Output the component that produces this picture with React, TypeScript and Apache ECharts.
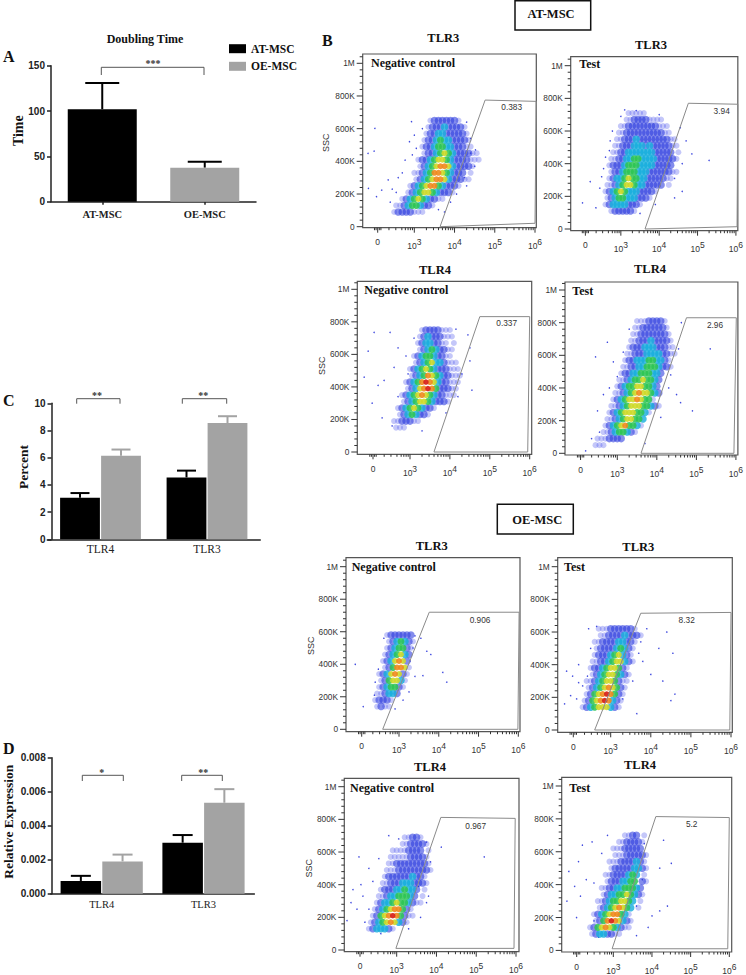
import React, { useEffect, useRef } from "react";
import * as echarts from "echarts";

// ---------- bar chart values ----------
const groupsA = ["AT-MSC", "OE-MSC"];
const doublingAT = [102, null];
const doublingOE = [null, 37.5];
const doublingATTop = [131, null];
const doublingOETop = [null, 44];
const tlrGroupsC = ["TLR4", "TLR3"];
const percentAT = [3.05, 4.55];
const percentATTop = [3.4, 5.05];
const percentOE = [6.15, 8.55];
const percentOETop = [6.6, 9.05];
const tlrGroupsD = ["TLR4", "TLR3"];
const exprAT = [0.00075, 0.003];
const exprATTop = [0.00105, 0.00345];
const exprOE = [0.0019, 0.00535];
const exprOETop = [0.0023, 0.00615];

// ---------- flow cytometry: density (one digit per cell, rows every 40K SSC, columns every 0.1 decade) ----------
const d1 = { u0: 2.4, top: 650, rows: ["..........12222221", ".........1222322221", ".........12233222221", "........122343322221", "........1223443322211", "........12234543222211", ".......1223455432222111", ".......12345665322221", "......1123466543222 1", "......12345665322211", ".....1234566432221", "....123455432221", "...12345432211", ".1123443221", ".12222111"] };
const d2 = { u0: 2.4, top: 710, rows: ["........11111", ".......1122221111", "......1122222222111", ".....11222222222211", ".....1122232222222211", "....11222333232222211", "....1122333333322222 1", "...112233443333222221", "...12223444333322222", "...122344433322222211", "...12334544332222211", "..112345543322222 1", "..12345433322221", "..123443332221", "..1233332221", "...1222221"] };
const d3 = { u0: 2.5, top: 750, rows: ["........12222111", ".......123222111", ".......12332211 1", ".......123432211", "......1234432211", "......12345332111", ".....1234543222111", ".....1234654322111", "....12346765322111", "....1235676422211", "...12345654322111", "...123455432221", "..1234543221", "..12343221", ".1122211", ".111"] };
const d4 = { u0: 2.3, top: 810, rows: ["............11122221", "...........112222221", "...........1122222221", "..........11222322221", "..........122233322211", ".........1122233332211", ".........122333443321", "........1122334443221", "........12233444332", ".......11234454432", ".......12344554432", "......112345655432", "......12345565441", ".....1123455544321", ".....12345554431", "....1123455443", "....1234564431", "...112344321", "..1112222", ".111"] };
const d5 = { u0: 2.4, top: 580, rows: ["...1222222", "...1234321", "...1234421", "..1234532", "..1235652", "..1246651", ".12356521", ".1245531", ".1234421", "112332", "12221", "1211"] };
const d6 = { u0: 2.3, top: 620, rows: ["....1112222221", "....11222232221", "...11222233221", "...1222234321", "...1222345321", "..11223455321", "..1223455421", "..1234554321", ".11234554211", ".1234565421", ".1245676421", "1245676321", "1234555321"] };
const d7 = { u0: 2.2, top: 690, rows: ["..........11221", ".........1122221", ".......11112222 1", "......1111122221", "......11222222221", ".....111222222221", ".....12222223221", "....112223332221", "....1222334332 1", "...1123344432 1", "...123345443211", "..1234566421", "..12456764211", ".1234565321", ".1233321"] };
const d8 = { u0: 2.3, top: 700, rows: ["..........1122 1", "........1122221", ".......11122222", ".......111222221", "......1112222321", "......1222223321", ".....112222343 1", ".....12223344 21", "....11223344432", "....12334454321", "...1123445543 1", "...123456543 1", "..1234566431", "..1246765321", ".12456543211", ".12332211"] };

// scattered events outside the main clouds [decade, SSC in K]
const o1 = [[2.02, 602], [1.85, 449], [2.0, 463], [2.93, 643], [2.19, 224], [1.86, 235], [2.06, 184], [2.35, 286], [2.77, 408], [2.6, 300], [2.45, 230], [2.88, 520], [4.4, 450], [4.5, 370], [4.25, 300], [3.9, 150], [3.75, 90], [3.2, 600], [3.05, 480], [2.95, 440], [2.7, 330], [2.55, 210], [2.4, 150], [4.4, 540], [4.52, 470], [4.3, 250], [4.05, 200], [3.6, 105], [4.3, 640], [3.0, 560]];
const o2 = [[2.2, 290], [2.0, 160], [2.55, 370], [2.45, 250], [2.72, 540], [3.0, 690], [2.6, 440], [4.7, 540], [5.3, 420], [4.85, 460], [4.6, 230], [4.4, 190], [2.78, 600], [4.55, 620], [4.6, 400], [4.4, 310], [3.1, 730], [3.4, 725], [4.0, 700], [2.7, 480], [2.5, 320], [2.35, 130], [3.5, 95], [3.9, 150]];
const o3 = [[1.95, 620], [2.1, 735], [2.5, 735], [2.7, 640], [1.85, 460], [2.35, 440], [2.6, 520], [2.2, 410], [2.05, 300], [2.9, 590], [4.5, 560], [4.3, 480], [4.55, 380], [2.3, 210], [4.45, 720], [4.15, 755], [4.5, 640], [3.1, 700], [2.95, 480], [2.7, 340], [2.55, 160], [3.3, 130], [3.9, 240], [4.2, 340]];
const o4 = [[2.75, 680], [2.45, 590], [3.0, 470], [2.8, 400], [2.65, 360], [2.5, 260], [2.2, 15], [4.9, 260], [4.5, 360], [5.35, 640], [4.6, 310], [2.9, 560], [4.62, 800], [4.55, 640], [4.35, 480], [3.3, 760], [3.15, 620], [2.55, 130], [2.35, 90], [3.7, 60], [4.1, 220], [4.3, 400]];
const o5 = [[1.9, 400], [2.4, 290], [2.1, 140], [3.55, 560], [3.7, 480], [3.8, 460], [3.6, 330], [3.4, 325], [4.1, 350], [4.2, 290], [3.25, 230], [3.1, 180], [2.62, 560], [2.48, 370], [2.38, 210], [3.35, 500], [3.28, 420], [3.4, 575], [2.9, 125]];
const o6 = [[1.9, 360], [2.05, 330], [2.2, 290], [2.0, 210], [2.3, 270], [2.45, 620], [2.2, 400], [2.15, 190], [1.85, 160], [3.9, 620], [4.4, 600], [4.2, 500], [4.55, 470], [3.8, 420], [4.0, 340], [4.3, 300], [4.6, 220], [4.5, 180], [3.65, 100], [3.75, 540], [3.7, 470], [3.55, 300], [3.3, 190], [2.5, 500], [2.65, 635], [2.42, 330]];
const o7 = [[2.05, 570], [2.1, 400], [1.9, 370], [1.85, 290], [2.0, 250], [2.15, 330], [1.75, 180], [2.3, 500], [2.4, 420], [4.12, 630], [5.2, 570], [3.85, 540], [3.8, 330], [3.75, 290], [3.6, 200], [3.3, 130], [2.8, 700], [3.05, 680], [3.75, 660], [2.55, 560], [2.3, 250], [2.2, 170], [3.55, 390], [2.6, 100]];
const o8 = [[2.45, 660], [2.2, 640], [2.1, 540], [1.85, 480], [2.3, 430], [2.0, 390], [2.15, 330], [1.8, 300], [2.05, 200], [2.5, 180], [4.3, 670], [4.2, 500], [4.5, 530], [4.4, 270], [4.2, 240], [4.0, 210], [3.9, 140], [3.6, 90], [2.85, 700], [2.7, 590], [2.5, 410], [3.8, 650], [3.75, 430], [3.6, 270], [2.62, 80]];

// gate vertices [decade, SSC in K]
const g1 = [[3.64, 0], [4.76, 775], [6.03, 767], [6.0, 21], [3.64, 0]];
const g2 = [[3.63, 0], [4.76, 770], [6.05, 764], [6.03, 14], [3.63, 0]];
const g3 = [[3.6, 0], [4.75, 832], [6.0, 832], [5.95, 0], [3.6, 0]];
const g4 = [[3.6, 0], [4.75, 830], [6.01, 830], [5.95, 0], [3.6, 0]];
const g5 = [[2.59, 0], [3.76, 720], [6.02, 720], [5.99, 0], [2.59, 0]];
const g6 = [[2.6, 0], [3.75, 715], [6.0, 720], [5.97, 0], [2.6, 0]];
const g7 = [[2.98, 10], [4.11, 812], [5.98, 806], [5.95, 10], [2.98, 10]];
const g8 = [[2.97, 10], [4.1, 814], [6.0, 808], [5.96, 10], [2.97, 10]];

const flowTitles = ["TLR3", "TLR3", "TLR4", "TLR4", "TLR3", "TLR3", "TLR4", "TLR4"];
const flowKinds = ["Negative control", "Test", "Negative control", "Test", "Negative control", "Test", "Negative control", "Test"];
const gateValues = ["0.383", "3.94", "0.337", "2.96", "0.906", "8.32", "0.967", "5.2"];
const sscMajor = [0, 200, 400, 600, 800, 1000];
const sscLabels: Record<number, string> = { 0: "0", 200: "200K", 400: "400K", 600: "600K", 800: "800K", 1000: "1M" };
const decades = [3, 4, 5, 6];

// ---------- layout (pixels) ----------
const layouts = [
  { l: 362.7, r: 536.3, t: 54, b: 227.7, y0: 226.7, y1: 63.3, x3: 414.3, x6: 535, z: 377.7, tx: 443.3, ty: 38.3, kx: 371, ky: 62.7, vx: 511.7, vy: 106.7, sx: 326, sy: 142.7, ssc: true },
  { l: 570.7, r: 745, t: 56.7, b: 230.7, y0: 229, y1: 65.7, x3: 623, x6: 743, z: 586, tx: 651, ty: 45, kx: 579.3, ky: 64.3, vx: 721.7, vy: 111, sx: 0, sy: 0, ssc: false },
  { l: 357.3, r: 531.7, t: 281.3, b: 454.3, y0: 452, y1: 289.3, x3: 410, x6: 529.7, z: 373, tx: 435, ty: 270, kx: 364.3, ky: 290, vx: 506.7, vy: 322.7, sx: 321.7, sy: 365.7, ssc: true },
  { l: 565, r: 739.3, t: 282, b: 455, y0: 453.3, y1: 290, x3: 617.7, x6: 737.3, z: 580.7, tx: 650, ty: 269, kx: 572.3, ky: 290.7, vx: 715, vy: 325, sx: 0, sy: 0, ssc: false },
  { l: 346, r: 520, t: 557.7, b: 731.7, y0: 729.3, y1: 566.7, x3: 399, x6: 518.3, z: 361.7, tx: 431.7, ty: 545.7, kx: 351.7, ky: 566.7, vx: 480, vy: 620, sx: 311, sy: 645.7, ssc: true },
  { l: 557.7, r: 732.3, t: 557.7, b: 732.3, y0: 730, y1: 566.7, x3: 610.7, x6: 731, z: 573.3, tx: 638.3, ty: 546.7, kx: 564, ky: 567.3, vx: 686.7, vy: 620, sx: 0, sy: 0, ssc: false },
  { l: 344.3, r: 519, t: 778.3, b: 951.7, y0: 950, y1: 786.7, x3: 396.7, x6: 516, z: 360, tx: 430, ty: 766.7, kx: 350, ky: 787.7, vx: 475.7, vy: 826, sx: 309, sy: 868.3, ssc: true },
  { l: 561.7, r: 731.7, t: 777.3, b: 952.3, y0: 950.7, y1: 786, x3: 613.3, x6: 729.3, z: 576.7, tx: 640, ty: 765, kx: 569.3, ky: 787.7, vx: 691.7, vy: 824, sx: 0, sy: 0, ssc: false },
];
const densities = [d1, d2, d3, d4, d5, d6, d7, d8];
const outliers = [o1, o2, o3, o4, o5, o6, o7, o8];
const gates = [g1, g2, g3, g4, g5, g6, g7, g8];

const SERIF = "'Liberation Serif', serif";
const SANS = "'Liberation Sans', sans-serif";
// band 0 = a lone event; 1-7 = density classes from sparse blue to dense red
const BAND_COLORS = ["#2a35dc", "#3a46ea", "#2a38de", "#14acdc", "#2cc452", "#cfd92a", "#f08a1e", "#d8261e"];
const BAND_SIZES = [1.5, 6, 7.5, 7.5, 7, 6, 6, 5.5];
const BAND_ALPHA = [0.9, 0.3, 0.58, 0.8, 0.85, 0.9, 0.9, 0.95];

function flowPoints(i: number) {
  const d = densities[i];
  const pts: number[][] = [];
  d.rows.forEach((row, r) => {
    for (let c = 0; c < row.length; c++) {
      const v = parseInt(row[c], 10);
      if (v > 0) pts.push([+(d.u0 + c * 0.1 + (r % 2 ? 0.05 : 0)).toFixed(3), d.top - r * 40, v]);
    }
  });
  outliers[i].forEach((p) => pts.push([p[0], p[1], 0]));
  return pts.sort((a, b) => a[2] - b[2]);
}

function txt(text: string, x: number, y: number, font: string, align = "center", rot = 0, fill = "#111") {
  return {
    type: "text", x, y, rotation: rot, silent: true,
    style: { text, font, fill, align, verticalAlign: "middle", textAlign: align, textVerticalAlign: "middle" },
  };
}
function bracket(x1: number, x2: number, top: number, bot: number) {
  return {
    type: "polyline", silent: true,
    shape: { points: [[x1, bot], [x1, top], [x2, top], [x2, bot]] },
    style: { stroke: "#555", lineWidth: 1, fill: "none" },
  };
}

function errorSeries(name: string, xi: number, yi: number, tops: (number | null)[], means: (number | null)[], off: number, cap: number, color: string) {
  return {
    type: "custom", name, xAxisIndex: xi, yAxisIndex: yi, silent: true, z: 1,
    data: means.map((m, i) => [i, m, tops[i]]).filter((r) => r[1] !== null),
    renderItem: (_: any, api: any) => {
      const a = api.coord([api.value(0), api.value(1)]);
      const b = api.coord([api.value(0), api.value(2)]);
      const x = a[0] + off;
      const st = { stroke: color, lineWidth: 2, fill: "none" };
      return {
        type: "group",
        children: [
          { type: "line", shape: { x1: x, y1: a[1], x2: x, y2: b[1] }, style: st },
          { type: "line", shape: { x1: x - cap / 2, y1: b[1], x2: x + cap / 2, y2: b[1] }, style: st },
        ],
      };
    },
  };
}

function buildOption() {
  const grid: any[] = [];
  const xAxis: any[] = [];
  const yAxis: any[] = [];
  const series: any[] = [];
  const graphic: any[] = [];

  const barAxisX = (cats: string[], gi: number, labelSize: number, bold: boolean, tick: boolean, margin: number) => ({
    type: "category", gridIndex: gi, data: cats,
    axisLine: { onZero: false, lineStyle: { color: "#222", width: 1.5 } },
    axisTick: { show: tick, length: 3, alignWithLabel: true, lineStyle: { color: "#222", width: 1.5 } },
    axisLabel: { fontFamily: SERIF, fontSize: labelSize, fontWeight: bold ? "bold" : "normal", color: "#222", margin, interval: 0 },
  });
  const barAxisY = (gi: number, max: number, interval: number, offset: number, fmt?: (v: number) => string) => ({
    type: "value", gridIndex: gi, min: 0, max, interval, offset,
    splitLine: { show: false },
    axisLine: { show: true, lineStyle: { color: "#222", width: 1.5 } },
    axisTick: { show: true, length: 4, lineStyle: { color: "#222", width: 1.5 } },
    axisLabel: { fontFamily: SANS, fontSize: 10, fontWeight: "bold", color: "#222", margin: 6, formatter: fmt },
  });

  // Panel A
  grid.push({ left: 51, top: 65.7, width: 205, height: 136 });
  xAxis.push(barAxisX(groupsA, 0, 10.5, true, true, 7));
  yAxis.push(barAxisY(0, 150, 50, 0));
  series.push({ type: "bar", name: "AT-MSC", xAxisIndex: 0, yAxisIndex: 0, barWidth: 69, barGap: "-100%", z: 2, data: doublingAT, itemStyle: { color: "#000" } });
  series.push({ type: "bar", name: "OE-MSC", xAxisIndex: 0, yAxisIndex: 0, barWidth: 69, barGap: "-100%", z: 2, data: doublingOE, itemStyle: { color: "#a3a3a3" } });
  series.push(errorSeries("AT-MSC error", 0, 0, doublingATTop, doublingAT, 0, 34, "#000"));
  series.push(errorSeries("OE-MSC error", 0, 0, doublingOETop, doublingOE, 0, 34, "#000"));

  const twoGroup = (gi: number, at: number[], atTop: number[], oe: number[], oeTop: number[], w: number, gap: number, cap: number) => {
    series.push({ type: "bar", name: "AT-MSC", xAxisIndex: gi, yAxisIndex: gi, barWidth: w, barGap: `${(gap / w) * 100}%`, z: 2, data: at, itemStyle: { color: "#000" } });
    series.push({ type: "bar", name: "OE-MSC", xAxisIndex: gi, yAxisIndex: gi, barWidth: w, barGap: `${(gap / w) * 100}%`, z: 2, data: oe, itemStyle: { color: "#a3a3a3" } });
    series.push(errorSeries("AT-MSC error", gi, gi, atTop, at, -(w + gap) / 2, cap, "#000"));
    series.push(errorSeries("OE-MSC error", gi, gi, oeTop, oe, (w + gap) / 2, cap, "#a3a3a3"));
  };

  // Panel C
  grid.push({ left: 47.25, top: 403.3, width: 213, height: 136 });
  xAxis.push(barAxisX(tlrGroupsC, 1, 11.5, false, false, 4));
  yAxis.push(barAxisY(1, 10, 2, -4.25));
  twoGroup(1, percentAT, percentATTop, percentOE, percentOETop, 39.8, 1.2, 19);

  // Panel D
  grid.push({ left: 50.8, top: 757.7, width: 203.6, height: 136 });
  xAxis.push(barAxisX(tlrGroupsD, 2, 10.5, false, false, 5));
  yAxis.push(barAxisY(2, 0.008, 0.002, -0.9, (v: number) => v.toFixed(3)));
  twoGroup(2, exprAT, exprATTop, exprOE, exprOETop, 40.5, 1.2, 20);

  // Flow panels
  layouts.forEach((p, i) => {
    const gi = grid.length;
    const s = (p.x6 - p.x3) / 3;
    const sy = (p.y0 - p.y1) / 1000;
    const zero = 3 - (p.x3 - p.z) / s;
    grid.push({ left: p.l, top: p.t, width: p.r - p.l, height: p.b - p.t, show: true, borderColor: "#555", borderWidth: 1.2, backgroundColor: "#fff" });
    const xMin = 3 - (p.x3 - p.l) / s;
    const xMax = 3 + (p.r - p.x3) / s;
    const yMin = -(p.b - p.y0) / sy;
    const yMax = (p.y0 - p.t) / sy;
    const xi = xAxis.length;
    const yi = yAxis.length;
    const majors = [zero, ...decades];
    xAxis.push({
      type: "value", gridIndex: gi, min: xMin, max: xMax, position: "bottom", splitLine: { show: false },
      axisLine: { show: false, onZero: false }, axisTick: { show: false },
      axisLabel: {
        customValues: majors, margin: 10, color: "#333", fontFamily: SANS, fontSize: 8.5, hideOverlap: false, showMinLabel: true, showMaxLabel: true,
        formatter: (v: number) => (Math.abs(v - zero) < 0.001 ? "0" : `{b|10}{e|${Math.round(v)}}`),
        rich: { b: { fontFamily: SANS, fontSize: 8.5, color: "#333" }, e: { fontFamily: SANS, fontSize: 8.5, color: "#333", padding: [0, 0, 8, 0] } },
      },
    });
    yAxis.push({
      type: "value", gridIndex: gi, min: yMin, max: yMax, position: "left", splitLine: { show: false },
      axisLine: { show: false, onZero: false }, axisTick: { show: false },
      axisLabel: { customValues: sscMajor, margin: 8, color: "#333", fontFamily: SANS, fontSize: 8.3, formatter: (v: number) => sscLabels[Math.round(v)] },
    });
    // ticks on both scales: [value, length, 0 = x scale / 1 = y scale]
    const ticks: number[][] = [];
    majors.forEach((m) => ticks.push([m, 5, 0]));
    [zero - 0.08, zero - 0.04, zero + 0.04, zero + 0.08, zero + 0.28, zero + 0.45, zero + 0.6].forEach((m) => ticks.push([m, 2.5, 0]));
    for (let k = 6; k < 10; k++) ticks.push([2 + Math.log10(k), 2.5, 0]);
    decades.slice(0, 3).forEach((d) => { for (let k = 2; k < 10; k++) ticks.push([d + Math.log10(k), 2.5, 0]); });
    sscMajor.forEach((v) => ticks.push([v, 6, 1]));
    for (let v = 40; v < yMax; v += 40) if (v % 200 !== 0) ticks.push([v, 3, 1]);
    series.push({
      type: "custom", name: `${flowTitles[i]} ticks`, xAxisIndex: xi, yAxisIndex: yi, silent: true, clip: false, z: 1, data: ticks,
      encode: { x: 0, y: 0 },
      renderItem: (_: any, api: any) => {
        const v = api.value(0), len = api.value(1), onY = api.value(2) === 1;
        const st = { stroke: "#333", lineWidth: 1, fill: "none" };
        if (onY) {
          const c = api.coord([xMin, v]);
          return { type: "line", shape: { x1: c[0] - len, y1: c[1], x2: c[0], y2: c[1] }, style: st };
        }
        const c = api.coord([v, yMin]);
        return { type: "line", shape: { x1: c[0], y1: c[1], x2: c[0], y2: c[1] + len }, style: st };
      },
    });
    series.push({
      type: "scatter", name: `${flowKinds[i]} ${flowTitles[i]} ${i < 4 ? "AT-MSC" : "OE-MSC"} events`, xAxisIndex: xi, yAxisIndex: yi, silent: true, z: 2,
      data: flowPoints(i).map((v) => ({ value: v, itemStyle: { opacity: BAND_ALPHA[v[2]] } })),
      symbolSize: (v: number[]) => BAND_SIZES[v[2]],
      itemStyle: { color: (o: any) => BAND_COLORS[o.value[2]] },
    });
    series.push({
      type: "line", name: `${flowTitles[i]} gate ${gateValues[i]}`, xAxisIndex: xi, yAxisIndex: yi, silent: true, z: 3, symbol: "none",
      data: gates[i], lineStyle: { color: "#8a8a8a", width: 1 },
    });
    graphic.push(txt(flowTitles[i], p.tx, p.ty, `bold 12.5px ${SERIF}`));
    graphic.push(txt(flowKinds[i], p.kx, p.ky, `bold 12px ${SERIF}`, "left"));
    graphic.push(txt(gateValues[i], p.vx, p.vy, `8.3px ${SANS}`, "center", 0, "#333"));
    if (p.ssc) graphic.push(txt("SSC", p.sx, p.sy, `9px ${SANS}`, "center", Math.PI / 2, "#333"));
  });

  // Panel letters and headings
  graphic.push(txt("A", 3, 56, `bold 16px ${SERIF}`, "left"));
  graphic.push(txt("B", 322, 40, `bold 16px ${SERIF}`, "left"));
  graphic.push(txt("C", 3, 400.7, `bold 16px ${SERIF}`, "left"));
  graphic.push(txt("D", 3, 748, `bold 16px ${SERIF}`, "left"));
  graphic.push(txt("Doubling Time", 145, 39, `bold 12px ${SERIF}`));
  graphic.push(txt("Time", 18, 130.7, `bold 14px ${SERIF}`, "center", Math.PI / 2));
  graphic.push(txt("Percent", 23, 467, `bold 13.5px ${SERIF}`, "center", Math.PI / 2));
  graphic.push(txt("Relative Expression", 8, 821.7, `bold 13.5px ${SERIF}`, "center", Math.PI / 2));

  // significance brackets
  graphic.push(bracket(101.3, 204, 67.3, 75), txt("***", 153, 63.5, `bold 10px ${SERIF}`, "center", 0, "#333"));
  graphic.push(bracket(76.7, 120, 398.7, 403.7), txt("**", 97, 395.5, `bold 10px ${SERIF}`, "center", 0, "#333"));
  graphic.push(bracket(182.3, 226.7, 398.7, 403.7), txt("**", 203.3, 395.5, `bold 10px ${SERIF}`, "center", 0, "#333"));
  graphic.push(bracket(82.3, 123.3, 775.3, 781), txt("*", 101.7, 772.5, `bold 10px ${SERIF}`, "center", 0, "#333"));
  graphic.push(bracket(181.7, 222.3, 775.3, 781), txt("**", 203.3, 772.5, `bold 10px ${SERIF}`, "center", 0, "#333"));

  // cell-source boxes
  graphic.push({ type: "rect", silent: true, shape: { x: 515, y: 0.8, width: 75.7, height: 29.2 }, style: { stroke: "#111", lineWidth: 1.5, fill: "#fff" } });
  graphic.push(txt("AT-MSC", 551, 14, `bold 12.5px ${SERIF}`));
  graphic.push({ type: "rect", silent: true, shape: { x: 497.3, y: 504.3, width: 76, height: 29.7 }, style: { stroke: "#111", lineWidth: 1.5, fill: "#fff" } });
  graphic.push(txt("OE-MSC", 537.3, 520, `bold 12.5px ${SERIF}`));

  return {
    animation: false,
    backgroundColor: "#fff",
    legend: {
      data: [{ name: "AT-MSC", icon: "rect", itemStyle: { color: "#000" } }, { name: "OE-MSC", icon: "rect", itemStyle: { color: "#a3a3a3" } }],
      orient: "vertical", left: 229, top: 42.7, itemWidth: 17, itemHeight: 9, itemGap: 5.6, padding: 0, selectedMode: false,
      textStyle: { fontFamily: SERIF, fontWeight: "bold", fontSize: 11.5, color: "#111" },
    },
    grid, xAxis, yAxis, series, graphic,
  };
}

export default function App() {
  const ref = useRef<HTMLDivElement>(null);
  useEffect(() => {
    const chart = echarts.init(ref.current!, undefined, { renderer: "svg" });
    chart.setOption(buildOption() as any);
    return () => chart.dispose();
  }, []);
  return <div ref={ref} style={{ position: "fixed", left: 0, top: 0, width: 746, height: 975, background: "#fff" }} />;
}
